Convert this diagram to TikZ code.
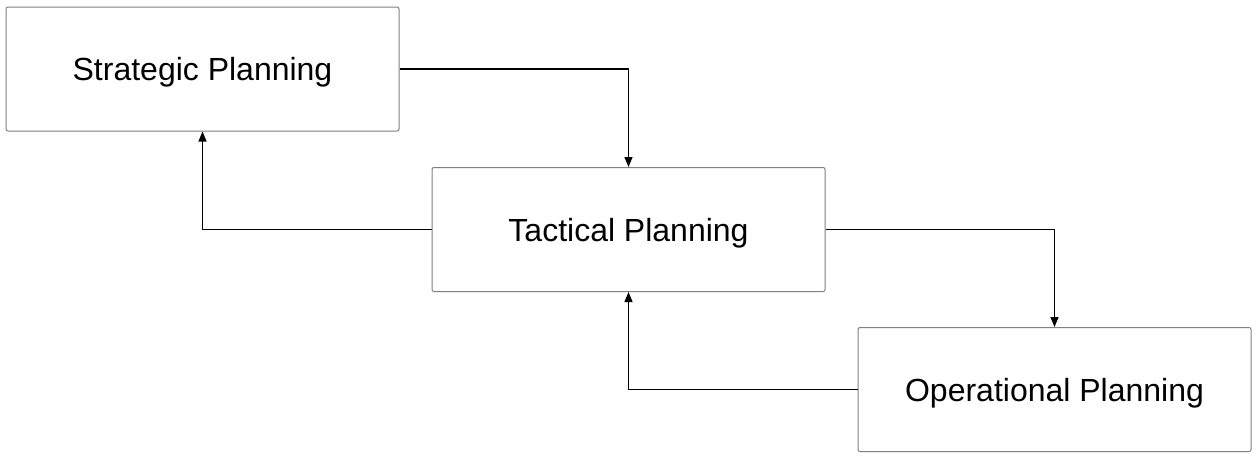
\documentclass[tikz,border=0pt]{standalone}
\usepackage{fontspec}
\setmainfont{Liberation Sans}
\usetikzlibrary{arrows.meta}
\begin{document}
\begin{tikzpicture}[x=1pt,y=-1pt,
  planbox/.style={draw=black!50, line width=1pt, rounded corners=2pt, fill=white,
    minimum width=393pt, minimum height=124pt, inner sep=0pt, text depth=0pt,
    font=\fontsize{32}{38}\selectfont},
  link/.style={draw=black, line width=1.3pt, -{Triangle[length=10pt,width=8pt]}}]
\useasboundingbox[fill=white] (0,0) rectangle (1258,458);
\node[planbox] (S) at (202.5,69) {Strategic Planning};
\node[planbox] (T) at (628.5,229.5) {Tactical Planning};
\node[planbox] (O) at (1054.5,389.5) {Operational Planning};
\draw[link] (S.east) -| (T.north);
\draw[link] (T.west) -| (S.south);
\draw[link] (T.east) -| (O.north);
\draw[link] (O.west) -| (T.south);
\end{tikzpicture}
\end{document}
